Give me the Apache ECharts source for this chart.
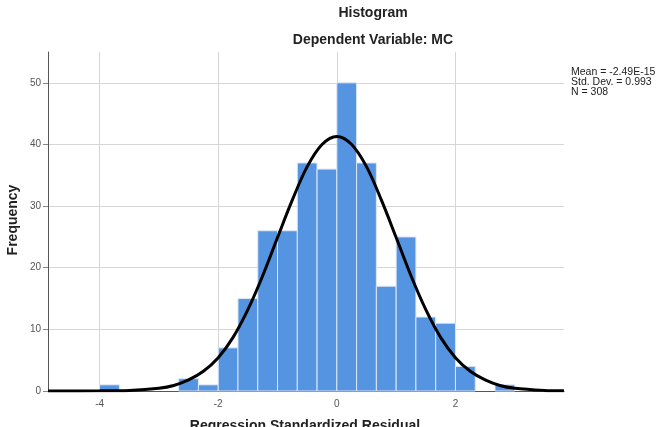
<!DOCTYPE html>
<html>
<head>
<meta charset="utf-8">
<script src="https://cdn.jsdelivr.net/npm/echarts@6/dist/echarts.min.js"></script>
<style>
html,body{margin:0;padding:0;background:#fff;}
#chart{width:661px;height:427px;}
</style>
</head>
<body>
<div id="chart"></div>
<script>
// Histogram bins (left edge of each bin, width 1/3)
var binStarts = [-4, -3.667, -3.333, -3, -2.667, -2.333, -2, -1.667, -1.333, -1, -0.667, -0.333, 0, 0.333, 0.667, 1, 1.333, 1.667, 2, 2.333, 2.667];
var binWidth = 0.3333;
var counts = [1, 0, 0, 0, 2, 1, 7, 15, 26, 26, 37, 36, 50, 37, 17, 25, 12, 11, 4, 0, 1];

// Normal curve
var curveX = [-4.87, -4, -3.5, -3, -2.75, -2.5, -2.25, -2, -1.75, -1.5, -1.25, -1, -0.75, -0.5, -0.25, 0, 0.25, 0.5, 0.75, 1, 1.25, 1.5, 1.75, 2, 2.25, 2.5, 2.75, 3, 3.5, 3.83];
var curveY = [0, 0.03, 0.1, 0.45, 0.9, 1.8, 3.2, 5.4, 8.7, 13.2, 18.7, 24.9, 31, 36.4, 40, 41.3, 40, 36.4, 31, 24.9, 18.7, 13.2, 8.7, 5.4, 3.2, 1.8, 0.9, 0.45, 0.1, 0.03];

var titleText = 'Histogram';
var subtitleText = 'Dependent Variable: MC';
var statsLines = ['Mean = -2.49E-15', 'Std. Dev. = 0.993', 'N = 308'];
var xAxisTitle = 'Regression Standardized Residual';
var yAxisTitle = 'Frequency';

var histData = binStarts.map(function (s, i) { return [s, s + binWidth, counts[i]]; });
var curveData = curveX.map(function (x, i) { return [x, curveY[i]]; });

var chart = echarts.init(document.getElementById('chart'), null, {renderer: 'canvas'});
var FONT = '"Liberation Sans", Arial, sans-serif';

chart.setOption({
  animation: false,
  backgroundColor: '#ffffff',
  grid: {left: 48, right: 97, top: 52, bottom: 36, containLabel: false},
  xAxis: {
    type: 'value',
    min: -4.87,
    max: 3.83,
    splitNumber: 5,
    axisLine: {show: true, onZero: false, lineStyle: {color: '#555', width: 1}},
    axisTick: {show: false},
    axisLabel: {showMinLabel: false, showMaxLabel: false, color: '#555', fontSize: 10, fontFamily: FONT, margin: 8},
    splitLine: {show: true, showMinLine: false, showMaxLine: false, lineStyle: {color: '#d6d6d6', width: 1}}
  },
  yAxis: {
    type: 'value',
    min: 0,
    max: 55,
    interval: 10,
    axisLine: {show: true, onZero: false, lineStyle: {color: '#555', width: 1}},
    axisTick: {show: true, length: 5, lineStyle: {color: '#888'}},
    axisLabel: {showMaxLabel: false, color: '#555', fontSize: 10, fontFamily: FONT, margin: 7},
    splitLine: {show: true, showMaxLine: false, showMinLine: false, lineStyle: {color: '#d6d6d6', width: 1}}
  },
  series: [
    {
      type: 'custom',
      data: histData,
      encode: {x: [0, 1], y: 2},
      renderItem: function (params, api) {
        var c = api.value(2);
        if (!c) return null;
        var p0 = api.coord([api.value(0), 0]);
        var p1 = api.coord([api.value(1), c]);
        return {
          type: 'rect',
          shape: {x: p0[0], y: p1[1], width: p1[0] - p0[0], height: p0[1] - p1[1]},
          style: {fill: '#5594e1', stroke: '#dde7f4', lineWidth: 1}
        };
      },
      z: 2
    },
    {
      type: 'line',
      data: curveData,
      smooth: 0.35,
      showSymbol: false,
      symbol: 'none',
      lineStyle: {color: '#000', width: 3},
      z: 3
    }
  ],
  graphic: [
    {type: 'text', x: 373, y: 13, style: {text: titleText, font: 'bold 14px ' + FONT, fill: '#222', align: 'center', verticalAlign: 'middle'}},
    {type: 'text', x: 373, y: 40, style: {text: subtitleText, font: 'bold 14px ' + FONT, fill: '#222', align: 'center', verticalAlign: 'middle'}},
    {type: 'text', x: 571, y: 67, style: {text: statsLines.join('\n'), font: '10.5px ' + FONT, lineHeight: 10, fill: '#222', align: 'left', verticalAlign: 'top'}},
    {type: 'text', x: 13, y: 220, rotation: Math.PI / 2, style: {text: yAxisTitle, font: 'bold 14px ' + FONT, fill: '#222', align: 'center', verticalAlign: 'middle'}},
    {type: 'text', x: 305, y: 419, style: {text: xAxisTitle, font: 'bold 14px ' + FONT, fill: '#222', align: 'center', verticalAlign: 'top'}}
  ]
});
</script>
</body>
</html>
